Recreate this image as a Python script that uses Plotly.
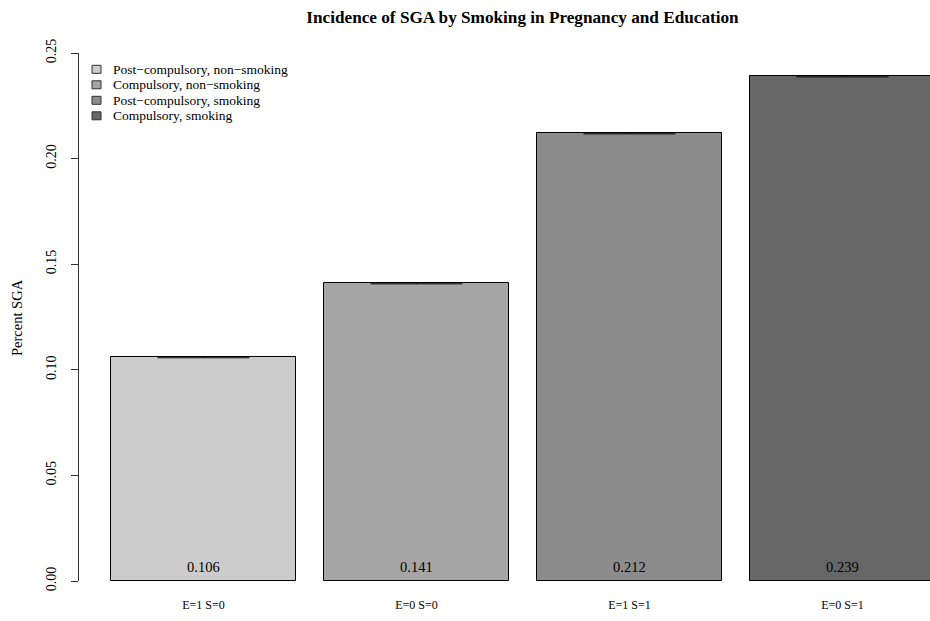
import plotly.graph_objects as go

categories = ["E=1 S=0", "E=0 S=0", "E=1 S=1", "E=0 S=1"]
legend_names = ["Post\u2212compulsory, non\u2212smoking", "Compulsory, non\u2212smoking",
                "Post\u2212compulsory, smoking", "Compulsory, smoking"]
values = [0.106, 0.141, 0.212, 0.239]
errors = [0.0003, 0.0003, 0.0003, 0.0003]
value_labels = ["0.106", "0.141", "0.212", "0.239"]
colors = ["#CCCCCC", "#A6A6A6", "#8C8C8C", "#666666"]
y_ticks = [0.0, 0.05, 0.10, 0.15, 0.20, 0.25]
y_tick_text = ["0.00", "0.05", "0.10", "0.15", "0.20", "0.25"]

FONT = "Liberation Serif"
W, H = 930, 621
L, R, T, B = 79, 0, 53, 40
PW, PH = W - L - R, H - T - B


def px_x(px):
    return (px - L) / PW


def px_y(py):
    return (H - B - py) / PH


xpos = list(range(len(categories)))

fig = go.Figure()
for i in range(len(categories)):
    fig.add_trace(go.Bar(
        x=[xpos[i]], y=[values[i]], name=legend_names[i],
        width=0.8685,
        marker=dict(color=colors[i], line=dict(color="black", width=1)),
        error_y=dict(type="data", array=[errors[i]], visible=True,
                     color="black", thickness=1, width=46),
        showlegend=False,
    ))

for i in range(len(categories)):
    fig.add_annotation(x=xpos[i], y=0, text=value_labels[i], showarrow=False,
                       yanchor="bottom", yshift=4, font=dict(family=FONT, size=14.5, color="black"))

# legend (manual, R style)
for i, name in enumerate(legend_names):
    cy = 69.3 + 15.5 * i
    fig.add_shape(type="rect", xref="paper", yref="paper",
                  x0=px_x(92), x1=px_x(101), y0=px_y(cy + 4), y1=px_y(cy - 4),
                  fillcolor=colors[i], line=dict(color="#333333", width=1))
    fig.add_annotation(xref="paper", yref="paper", x=px_x(110.5), y=px_y(cy), text=name,
                       showarrow=False, xanchor="left", yanchor="middle",
                       font=dict(family=FONT, size=13.5, color="black"))

fig.add_annotation(xref="paper", yref="paper", x=px_x(17), y=0.5, text="Percent SGA",
                   textangle=-90, showarrow=False, xanchor="center", yanchor="middle",
                   font=dict(family=FONT, size=14.5, color="black"))

fig.update_layout(
    width=W, height=H,
    margin=dict(l=L, r=R, t=T, b=B),
    paper_bgcolor="white", plot_bgcolor="white",
    font=dict(family=FONT, color="black"),
    title=dict(text="<b>Incidence of SGA by Smoking in Pregnancy and Education</b>",
               x=522.5 / W, xref="container", xanchor="center",
               y=1 - 17 / H, yref="container", yanchor="middle",
               font=dict(family=FONT, size=17.2, color="black")),
    showlegend=False,
    bargap=0,
)
fig.update_xaxes(range=[-0.5845, 3.411], tickvals=xpos, ticktext=categories,
                 showgrid=False, zeroline=False, showline=False, ticks="",
                 ticklabelstandoff=15, tickfont=dict(family=FONT, size=12, color="black"))
fig.update_yaxes(range=[0, 0.25], tickvals=y_ticks, ticktext=y_tick_text,
                 showgrid=False, zeroline=False, showline=True, linecolor="#333333", linewidth=1,
                 ticks="outside", ticklen=7, tickcolor="#333333", tickangle=-90,
                 ticklabelstandoff=9, tickfont=dict(family=FONT, size=14, color="black"))

fig.write_html("out.html", config={"displayModeBar": False},
               post_script="document.body.style.margin='0';")
